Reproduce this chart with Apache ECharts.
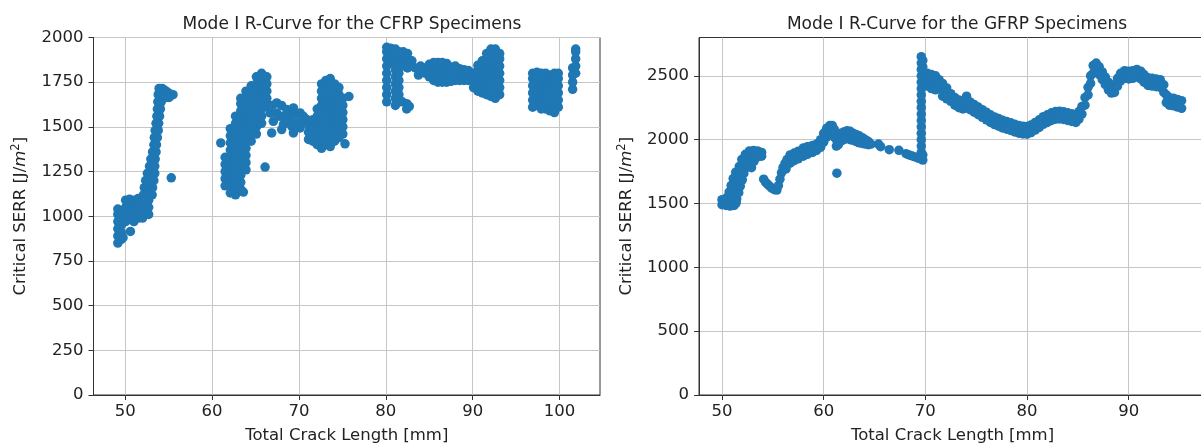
<!DOCTYPE html>
<html>
<head>
<meta charset="utf-8">
<script src="https://cdn.jsdelivr.net/npm/echarts@6/dist/echarts.min.js"></script>
<style>
  html, body { margin: 0; padding: 0; background: #ffffff; overflow: hidden; }
  #chart { width: 1201px; height: 446px; }
</style>
</head>
<body>
<div id="chart"></div>
<script>
// ---------- Titles / labels ----------
const cfrpTitle = 'Mode I R-Curve for the CFRP Specimens';
const gfrpTitle = 'Mode I R-Curve for the GFRP Specimens';
const xAxisLabel = 'Total Crack Length [mm]';
const yAxisLabel = 'Critical SERR [J/{it|m}{sup|2}]';

// ---------- Tick values ----------
const cfrpXTicks = [50, 60, 70, 80, 90, 100];
const cfrpYTicks = [0, 250, 500, 750, 1000, 1250, 1500, 1750, 2000];
const gfrpXTicks = [50, 60, 70, 80, 90];
const gfrpYTicks = [0, 500, 1000, 1500, 2000, 2500];

// ---------- CFRP data: each entry = [crack length, SERR values read at that length...] ----------
const cfrpCluster1 = [
  [49.15, 850, 890, 930, 970, 1010, 1040],
  [49.55, 870, 910, 950, 990, 1030],
  [49.75, 880],
  [50.05, 970, 1010, 1050, 1090],
  [50.5, 990, 1030, 1070, 1095],
  [50.6, 915],
  [51.0, 970, 1010, 1050, 1090],
  [51.5, 990, 1030, 1070, 1100],
  [52.0, 990, 1030, 1070],
  [52.7, 1010, 1050, 1090],
  [52.1, 1120], [52.6, 1120], [53.1, 1120],
  [52.2, 1160], [52.7, 1160], [53.15, 1160],
  [52.35, 1200], [52.85, 1200], [53.3, 1200],
  [52.55, 1240], [53.0, 1240], [53.4, 1240],
  [52.8, 1280], [53.4, 1280],
  [52.95, 1320], [53.45, 1320],
  [53.15, 1360], [53.55, 1360],
  [53.3, 1400], [53.6, 1400],
  [53.35, 1440], [53.7, 1440],
  [53.45, 1480], [53.8, 1480],
  [53.55, 1520], [53.85, 1520],
  [53.65, 1560], [53.95, 1560],
  [53.7, 1600], [54.05, 1600],
  [53.75, 1640], [54.15, 1640],
  [53.8, 1680], [54.2, 1680], [54.5, 1680],
  [53.9, 1715], [54.25, 1715], [54.55, 1705], [54.85, 1695], [55.15, 1685], [55.5, 1680],
  [54.75, 1665], [55.05, 1665],
  [55.3, 1215]
];
const cfrpCluster2 = [
  [61.0, 1410],
  [61.5, 1170, 1210, 1250, 1290, 1330],
  [62.1, 1130, 1170, 1210, 1250, 1290, 1330, 1370, 1410, 1450, 1490],
  [62.7, 1120, 1160, 1200, 1240, 1280, 1320, 1360, 1400, 1440, 1480, 1520, 1560],
  [63.3, 1150, 1190, 1230, 1270, 1310, 1350, 1390, 1430, 1470, 1510, 1550, 1590, 1630, 1660],
  [63.6, 1135],
  [63.9, 1260, 1300, 1340, 1380, 1420, 1460, 1500, 1540, 1580, 1620, 1660, 1700],
  [64.5, 1420, 1460, 1500, 1540, 1580, 1620, 1660, 1700, 1730],
  [65.1, 1460, 1500, 1540, 1580, 1620, 1660, 1700, 1740, 1780],
  [65.7, 1520, 1560, 1600, 1640, 1680, 1720, 1760, 1800],
  [66.1, 1275],
  [66.3, 1620, 1660, 1700, 1740, 1780],
  [66.67, 1578], [66.86, 1466], [66.9, 1620], [67.05, 1531], [67.44, 1634], [67.44, 1578],
  [67.82, 1559], [68.01, 1485], [68.0, 1620], [68.21, 1513], [68.59, 1597], [68.3, 1560],
  [68.98, 1569], [69.0, 1530], [69.17, 1503], [69.36, 1606], [69.36, 1466], [69.74, 1522],
  [69.6, 1570], [70.13, 1578], [70.13, 1494], [70.3, 1530], [70.51, 1559], [70.9, 1541],
  [71.1, 1430, 1470, 1510],
  [71.6, 1420, 1460, 1500, 1540],
  [72.1, 1400, 1440, 1480, 1520, 1560, 1600],
  [72.6, 1380, 1420, 1460, 1500, 1540, 1580, 1620, 1660, 1700, 1740],
  [73.1, 1400, 1440, 1480, 1520, 1560, 1600, 1640, 1680, 1720, 1760],
  [73.6, 1390, 1430, 1470, 1510, 1550, 1590, 1630, 1670, 1710, 1750, 1770],
  [74.1, 1420, 1460, 1500, 1540, 1580, 1620, 1660, 1700, 1740],
  [74.6, 1440, 1480, 1520, 1560, 1600, 1640, 1680, 1720],
  [75.05, 1460, 1500, 1540, 1580, 1620, 1660],
  [75.3, 1405],
  [75.75, 1670]
];
const cfrpCluster3 = [
  [80.1, 1640, 1680, 1720, 1760, 1800, 1840, 1880, 1920, 1945],
  [80.55, 1860, 1900, 1940],
  [81.1, 1620, 1660, 1700, 1740, 1780, 1820, 1860, 1900, 1935],
  [81.5, 1640, 1680, 1720, 1760, 1800, 1840, 1880, 1920],
  [81.9, 1640],
  [82.0, 1840, 1880, 1920],
  [82.4, 1600, 1630],
  [82.5, 1830, 1870, 1910],
  [82.7, 1615],
  [83.0, 1840, 1870],
  [83.4, 1830],
  [83.75, 1790],
  [84.0, 1810, 1840],
  [84.5, 1800, 1830],
  [85.0, 1780, 1820, 1850],
  [85.5, 1760, 1800, 1840, 1860],
  [86.0, 1750, 1790, 1830, 1860],
  [86.5, 1750, 1790, 1830, 1860],
  [87.0, 1750, 1790, 1830, 1855],
  [87.5, 1755, 1795, 1835],
  [88.0, 1760, 1800, 1840],
  [88.5, 1760, 1795, 1825],
  [89.0, 1760, 1800, 1820],
  [89.5, 1760, 1795, 1815],
  [90.1, 1720, 1760, 1800],
  [90.6, 1700, 1740, 1780, 1820, 1845],
  [91.1, 1690, 1730, 1770, 1810, 1850, 1870],
  [91.6, 1680, 1720, 1760, 1800, 1840, 1880, 1910],
  [92.1, 1670, 1710, 1750, 1790, 1830, 1870, 1910, 1935],
  [92.6, 1660, 1700, 1740, 1780, 1820, 1860, 1900, 1935],
  [93.1, 1680, 1720, 1760, 1800, 1840, 1880, 1910]
];
const cfrpCluster4 = [
  [96.9, 1610, 1650, 1690, 1730, 1770, 1800],
  [97.4, 1620, 1660, 1700, 1740, 1780, 1805],
  [97.9, 1600, 1640, 1680, 1720, 1760, 1800],
  [98.4, 1600, 1640, 1680, 1720, 1760, 1800],
  [98.9, 1590, 1630, 1670, 1710, 1750, 1790],
  [99.4, 1580, 1620, 1660, 1700, 1740, 1780, 1800],
  [99.85, 1610, 1650, 1690, 1730, 1770, 1800],
  [101.5, 1710, 1750, 1790, 1830],
  [101.85, 1800, 1840, 1880, 1920, 1935]
];

// ---------- GFRP data ----------
const gfrpRise = [
  [50.0, 1490, 1530], [50.4, 1485], [50.8, 1480], [51.2, 1485], [51.4, 1505],
  [50.45, 1545], [50.95, 1540], [51.45, 1535],
  [50.7, 1590], [51.2, 1590], [51.65, 1585],
  [50.9, 1640], [51.35, 1640], [51.8, 1635],
  [51.1, 1695], [51.55, 1690], [52.0, 1685],
  [51.35, 1745], [51.75, 1740], [52.15, 1735],
  [51.7, 1790], [52.1, 1790], [52.5, 1785], [52.9, 1780],
  [51.95, 1845], [52.35, 1840], [52.75, 1835], [53.15, 1830],
  [52.3, 1885], [52.7, 1880], [53.1, 1875], [53.5, 1865],
  [52.7, 1912], [53.1, 1915], [53.5, 1912], [53.9, 1900, 1870]
];
const gfrpSecond = [
  [54.1, 1690], [54.3, 1665], [54.5, 1650], [54.7, 1635], [54.9, 1620], [55.15, 1608],
  [55.4, 1605], [55.55, 1640], [55.7, 1690], [55.85, 1740], [56.0, 1780], [56.2, 1815],
  [56.3, 1770], [56.4, 1845],
  [56.7, 1815, 1880], [57.1, 1835, 1895], [57.5, 1850, 1910], [58.0, 1870, 1935],
  [58.4, 1885, 1945], [58.9, 1900, 1955], [59.3, 1915, 1965], [59.7, 1940, 2000],
  [60.0, 1980, 2050], [60.3, 2020, 2090], [60.6, 2050, 2110], [60.85, 2070, 2110],
  [61.05, 2020, 2080], [61.25, 1950, 2000], [61.45, 1960, 2030], [61.7, 1990, 2050],
  [62.0, 2000, 2060], [62.3, 2010, 2070], [62.6, 2000, 2065], [62.9, 1995, 2050],
  [63.2, 1985, 2040], [63.5, 1975, 2030], [63.8, 1970, 2015], [64.1, 1965, 2000],
  [64.4, 1960, 1985], [64.65, 1965],
  [61.3, 1737],
  [65.4, 1965], [65.6, 1945], [66.45, 1921], [67.4, 1916],
  [68.1, 1890], [68.4, 1880], [68.7, 1872], [69.0, 1865], [69.3, 1855]
];
const gfrpJump = [
  [69.6, 1850, 1900, 1950, 2000, 2050, 2100, 2150, 2200, 2250, 2300, 2350, 2400, 2450, 2500, 2550, 2600, 2650],
  [69.75, 1840, 1880, 2570, 2620],
  [70.2, 2420, 2470, 2520],
  [70.6, 2400, 2450, 2510],
  [71.0, 2390, 2440, 2500],
  [71.35, 2410, 2470]
];
const gfrpTail = [
  [71.7, 2340, 2390, 2440], [72.1, 2320, 2365, 2405], [72.5, 2300, 2360], [72.9, 2270, 2330],
  [73.3, 2250, 2310], [73.7, 2240, 2300], [74.05, 2250, 2310, 2340], [74.4, 2235, 2295],
  [74.8, 2215, 2275], [75.2, 2195, 2255], [75.6, 2175, 2235], [76.0, 2155, 2215],
  [76.4, 2135, 2195], [76.8, 2118, 2178], [77.2, 2105, 2165], [77.6, 2092, 2152],
  [78.0, 2082, 2142], [78.4, 2072, 2132], [78.8, 2060, 2120], [79.2, 2050, 2110],
  [79.6, 2045, 2105], [80.0, 2043, 2103], [80.4, 2055, 2115], [80.8, 2075, 2135],
  [81.2, 2095, 2155], [81.6, 2120, 2180], [82.0, 2135, 2195], [82.4, 2150, 2210],
  [82.8, 2160, 2220], [83.2, 2162, 2222], [83.6, 2158, 2218], [84.0, 2150, 2210],
  [84.4, 2142, 2202], [84.8, 2135, 2195], [85.1, 2160, 2220], [85.4, 2200, 2260],
  [85.7, 2270, 2330], [86.0, 2350, 2410], [86.25, 2440, 2500], [86.5, 2520, 2580],
  [86.8, 2540, 2600], [87.1, 2510, 2570], [87.4, 2470, 2530], [87.7, 2430, 2490],
  [88.0, 2390, 2450], [88.3, 2365, 2425], [88.6, 2370, 2430], [88.9, 2420, 2480],
  [89.2, 2460, 2520], [89.6, 2480, 2540], [90.0, 2475, 2535], [90.4, 2480, 2540],
  [90.8, 2490, 2550], [91.2, 2475, 2535], [91.5, 2450, 2510], [91.9, 2425, 2485],
  [92.3, 2420, 2480], [92.7, 2415, 2475], [93.1, 2410, 2470], [93.45, 2370, 2430],
  [93.7, 2290, 2350], [94.0, 2270, 2330], [94.4, 2265, 2325], [94.8, 2255, 2315],
  [95.2, 2245, 2305]
];

// ---------- build ----------
function toPoints(groups) {
  const out = [];
  groups.forEach(function (g) {
    g.forEach(function (col) {
      for (let i = 1; i < col.length; i++) out.push([col[0], col[i]]);
    });
  });
  return out;
}
const cfrpPoints = toPoints([cfrpCluster1, cfrpCluster2, cfrpCluster3, cfrpCluster4]);
const gfrpPoints = toPoints([gfrpRise, gfrpSecond, gfrpJump, gfrpTail]);

const FONT = 'DejaVu Sans';
const TXT = '#222222';
const BLUE = '#1f77b4';
const plain = function (v) { return String(v); };

const nameStyle = {
  fontFamily: FONT, fontSize: 16.5, color: TXT,
  rich: {
    it: { fontFamily: FONT, fontSize: 16.5, fontStyle: 'italic', color: TXT },
    sup: { fontFamily: FONT, fontSize: 11.5, color: TXT, verticalAlign: 'top', padding: [0, 0, 9, 0] }
  }
};

function xAxisFor(gridIndex, min, max, ticks) {
  return {
    type: 'value', gridIndex: gridIndex, min: min, max: max,
    name: xAxisLabel, nameLocation: 'middle', nameGap: 32,
    nameTextStyle: { fontFamily: FONT, fontSize: 16.5, color: TXT },
    axisLine: { show: true, onZero: false, lineStyle: { color: '#333', width: 1 } },
    axisTick: { show: true, inside: false, length: 5, customValues: ticks, lineStyle: { color: '#333', width: 1 } },
    axisLabel: { customValues: ticks, formatter: plain, fontFamily: FONT, fontSize: 16.5, color: TXT, margin: 8 },
    splitLine: { show: true, lineStyle: { color: '#c6c6c6', width: 1 } }
  };
}
function yAxisFor(gridIndex, min, max, ticks) {
  return {
    type: 'value', gridIndex: gridIndex, min: min, max: max,
    name: yAxisLabel, nameLocation: 'middle', nameGap: 62, nameRotate: 90,
    nameTextStyle: nameStyle,
    axisLine: { show: true, onZero: false, lineStyle: { color: '#333', width: 1 } },
    axisTick: { show: true, inside: false, length: 5, customValues: ticks, lineStyle: { color: '#333', width: 1 } },
    axisLabel: { customValues: ticks, formatter: plain, fontFamily: FONT, fontSize: 16.5, color: TXT, margin: 10 },
    splitLine: { show: true, lineStyle: { color: '#c6c6c6', width: 1 } }
  };
}

const chart = echarts.init(document.getElementById('chart'), null, { renderer: 'canvas' });
chart.setOption({
  animation: false,
  backgroundColor: '#ffffff',
  title: [
    { text: cfrpTitle, left: 347, top: 11, textAlign: 'center',
      textStyle: { fontFamily: FONT, fontSize: 17, fontWeight: 'normal', color: TXT } },
    { text: gfrpTitle, left: 952, top: 11, textAlign: 'center',
      textStyle: { fontFamily: FONT, fontSize: 17, fontWeight: 'normal', color: TXT } }
  ],
  grid: [
    { left: 93.5, top: 37.5, width: 506.5, height: 357.5, show: true, borderColor: '#333', borderWidth: 1,
      backgroundColor: 'transparent', outerBoundsMode: 'none', containLabel: false },
    { left: 699, top: 37.5, width: 507, height: 357.5, show: true, borderColor: '#333', borderWidth: 1,
      backgroundColor: 'transparent', outerBoundsMode: 'none', containLabel: false }
  ],
  xAxis: [
    xAxisFor(0, 46.35, 104.65, cfrpXTicks),
    xAxisFor(1, 47.74, 97.6, gfrpXTicks)
  ],
  yAxis: [
    yAxisFor(0, 0, 2000, cfrpYTicks),
    yAxisFor(1, 0, 2800, gfrpYTicks)
  ],
  series: [
    { type: 'scatter', xAxisIndex: 0, yAxisIndex: 0, data: cfrpPoints, symbolSize: 9.5,
      itemStyle: { color: BLUE, opacity: 1 }, z: 3 },
    { type: 'scatter', xAxisIndex: 1, yAxisIndex: 1, data: gfrpPoints, symbolSize: 9.5,
      itemStyle: { color: BLUE, opacity: 1 }, z: 3 }
  ]
});
</script>
</body>
</html>
